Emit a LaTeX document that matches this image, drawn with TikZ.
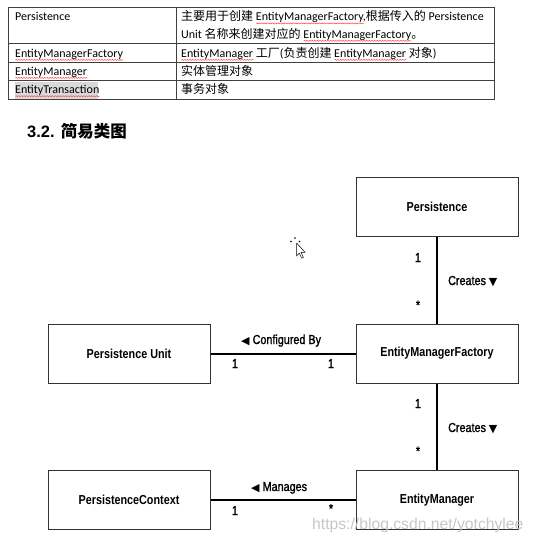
\documentclass[tikz,border=0pt]{standalone}
\usepackage{fontspec}
\setmainfont{Liberation Sans}
\newfontfamily\cjk{Noto Sans CJK SC}
\newfontfamily\tabfont{Carlito}
\newfontfamily\umlfont{Liberation Sans}[FakeStretch=0.83]
\newfontfamily\umllabelfont{Liberation Sans}[FakeStretch=0.83,FakeBold=1.3]
\newfontfamily\symfont{DejaVu Sans}
\usetikzlibrary{decorations.pathmorphing}
\tikzset{
  spellline/.style={draw=red!75, line width=0.45pt, decorate,
    decoration={snake, amplitude=0.55pt, segment length=2.6pt}},
  tabline/.style={draw=black!75, line width=0.9pt},
  tabtext/.style={inner sep=0pt, anchor=base west,
    font=\tabfont\fontsize{12}{14}\selectfont},
  umlbox/.style={draw=black!80, line width=1pt, minimum width=162pt,
    minimum height=59pt, inner sep=0pt, fill=white,
    font=\umlfont\bfseries\fontsize{13}{15}\selectfont},
  assoc/.style={line width=2pt, draw=black},
  lbl/.style={inner sep=0pt, anchor=base,
    font=\umllabelfont\fontsize{13}{15}\selectfont},
}
\newlength\spellw
\newcommand\spell[1]{\setbox0\hbox{#1}\setlength\spellw{\wd0}\leavevmode\rlap{\tikz[baseline=0pt]\path[spellline] (0pt,-2.6pt) -- (\spellw,-2.6pt);}#1}
\newcommand\tri[1]{{\symfont\fontsize{11}{12}\selectfont #1}}
\begin{document}
\begin{tikzpicture}[x=1pt, y=-1pt]
\useasboundingbox (0,0) rectangle (534,541);
\fill[white] (0,0) rectangle (534,541);

% ---------- table ----------
\fill[black!15] (15,82) rectangle (98,98.5);
\draw[tabline] (8,7.7) rectangle (494,99.3);
\draw[tabline] (176,7.7) -- (176,99.3);
\draw[tabline] (8,43.5) -- (494,43.5);
\draw[tabline] (8,62.7) -- (494,62.7);
\draw[tabline] (8,80.8) -- (494,80.8);

\node[tabtext] (t1) at (15,20.8) {Persistence};
\node[tabtext] (t2) at (15,57.3) {\spell{EntityManagerFactory}};
\node[tabtext] (t3) at (15,75.3) {\spell{EntityManager}};
\node[tabtext] (t4) at (15,93.6) {\spell{EntityTransaction}};

\node[tabtext] (d1a) at (181,20.8) {{\cjk 主要用于创建} \spell{EntityManagerFactory},{\cjk 根据传入的} Persistence};
\node[tabtext] (d1b) at (181,38.2) {Unit {\cjk 名称来创建对应的} \spell{EntityManagerFactory}{\cjk 。}};
\node[tabtext] (d2) at (181,57.3) {\spell{EntityManager} {\cjk 工厂}({\cjk 负责创建} \spell{EntityManager} {\cjk 对象})};
\node[tabtext] (d3) at (181,75.3) {\cjk 实体管理对象};
\node[tabtext] (d4) at (181,93.6) {\cjk 事务对象};

% ---------- heading ----------
\node[inner sep=0pt, anchor=base west, font=\bfseries\fontsize{16.5}{18}\selectfont]
  (head) at (27,137) {3.2. {\cjk\bfseries 简易类图}};

% ---------- class diagram ----------
\node[umlbox] (pers) at (437,206.5) {Persistence};
\node[umlbox] (pu)   at (129,353.5) {Persistence Unit};
\node[umlbox] (emf)  at (437,353.5) {EntityManagerFactory};
\node[umlbox] (pc)   at (129,500)   {PersistenceContext};
\node[umlbox] (em)   at (437,500)   {EntityManager};

\draw[assoc] (pers) -- (emf);
\draw[assoc] (pu) -- (emf);
\draw[assoc] (emf) -- (em);
\draw[assoc] (pc) -- (em);

% labels: Persistence - EMF
\node[lbl] (m1) at (418,262) {1};
\node[lbl] (m2) at (418,309.5) {*};
\node[lbl, anchor=base west] (c1) at (448,285) {Creates \tri{▼}};
% labels: PU - EMF
\node[lbl, anchor=base west] (cb) at (241,344) {\tri{◀} Configured By};
\node[lbl] (m3) at (235,368) {1};
\node[lbl] (m4) at (331,368) {1};
% labels: EMF - EM
\node[lbl] (m5) at (418,408) {1};
\node[lbl] (m6) at (418,455.5) {*};
\node[lbl, anchor=base west] (c2) at (448,432) {Creates \tri{▼}};
% labels: PC - EM
\node[lbl, anchor=base west] (mg) at (251,491) {\tri{◀} Manages};
\node[lbl] (m7) at (235,515) {1};
\node[lbl] (m8) at (331,513) {*};

% watermark
\node[inner sep=0pt, anchor=base west, text=black!22,
  font=\fontsize{15.7}{17}\selectfont] (wm) at (312,529) {https://blog.csdn.net/yotchylee};

% mouse cursor
\fill[black] (295,238) circle (0.9);
\fill[black] (291,241.5) circle (0.9);
\fill[black] (299.5,241.5) circle (0.9);
\draw[black, line width=0.5pt, fill=white, line join=round]
  (296.5,243) -- (296.5,256) -- (299.3,253.2) -- (301.6,258.2) -- (303.4,257.4)
  -- (301.1,252.4) -- (305.2,252.4) -- cycle;
\end{tikzpicture}
\end{document}
